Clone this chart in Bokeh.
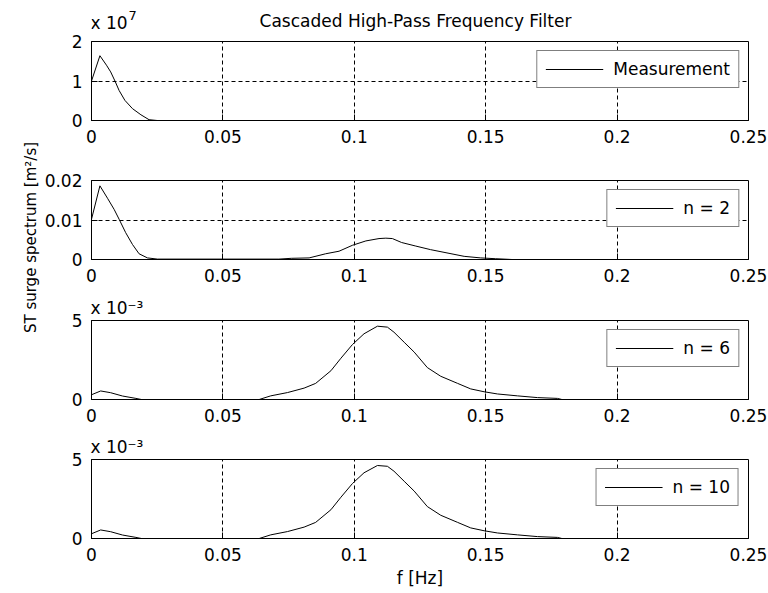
import math
from bokeh.plotting import figure
from bokeh.models import (Range1d, FixedTicker, CustomJSTickFormatter, Legend,
                          LegendItem, Label)
from bokeh.layouts import row, column
from bokeh.embed import file_html
from bokeh.resources import INLINE

# ---------------- data ----------------
x_ticks = [0, 0.05, 0.1, 0.15, 0.2, 0.25]

# Measurement (m^2/s), shown in units of 1e7
f_meas = [0, 0.0032, 0.0057, 0.0073, 0.009, 0.0105, 0.0127, 0.0156, 0.0188,
          0.0219, 0.025, 0.25]
s_meas = [1.0e7, 1.64e7, 1.40e7, 1.23e7, 0.99e7, 0.76e7, 0.51e7, 0.30e7,
          0.145e7, 0.02e7, 0.0, 0.0]

# n = 2
f_n2 = [0, 0.0032, 0.0061, 0.0086, 0.0105, 0.0130, 0.0156, 0.0181, 0.0213,
        0.0251, 0.0713, 0.0760, 0.0828, 0.0891, 0.0942, 0.0993, 0.1044,
        0.1094, 0.1120, 0.1145, 0.1180, 0.1234, 0.1290, 0.1418, 0.1481,
        0.1538, 0.1600, 0.25]
s_n2 = [0.0102, 0.01865, 0.0155, 0.0127, 0.0102, 0.0068, 0.0038, 0.00145,
        0.0004, 0.0001, 0.0001, 0.0003, 0.0004, 0.00145, 0.0021, 0.0036,
        0.0047, 0.0053, 0.0054, 0.0053, 0.0043, 0.0034, 0.0025, 0.0008,
        0.0004, 0.0002, 0.0, 0.0]

# n = 6 (shown in units of 1e-3)
f_n6 = [0, 0.0035, 0.0073, 0.0118, 0.0169, 0.019, 0.0638, 0.0682, 0.0746,
        0.0809, 0.0853, 0.0911, 0.0949, 0.0993, 0.1037, 0.1088, 0.1126,
        0.1151, 0.1190, 0.1228, 0.1278, 0.1329, 0.1393, 0.1443, 0.1494,
        0.1545, 0.1621, 0.1697, 0.1773, 0.179, 0.25]
s_n6 = [0.30e-3, 0.54e-3, 0.43e-3, 0.22e-3, 0.07e-3, 0.0, 0.0, 0.23e-3,
        0.44e-3, 0.72e-3, 1.02e-3, 1.82e-3, 2.61e-3, 3.48e-3, 4.16e-3,
        4.64e-3, 4.58e-3, 4.26e-3, 3.62e-3, 3.00e-3, 2.02e-3, 1.47e-3,
        1.02e-3, 0.67e-3, 0.49e-3, 0.35e-3, 0.23e-3, 0.12e-3, 0.07e-3, 0.0,
        0.0]

# n = 10 (shown in units of 1e-3)
f_n10 = [0, 0.0035, 0.0073, 0.0118, 0.0169, 0.019, 0.0638, 0.0682, 0.0746,
         0.0809, 0.0853, 0.0911, 0.0949, 0.0993, 0.1037, 0.1088, 0.1126,
         0.1151, 0.1190, 0.1228, 0.1278, 0.1329, 0.1393, 0.1443, 0.1494,
         0.1545, 0.1621, 0.1697, 0.1773, 0.179, 0.25]
s_n10 = [0.30e-3, 0.54e-3, 0.43e-3, 0.22e-3, 0.07e-3, 0.0, 0.0, 0.23e-3,
         0.44e-3, 0.72e-3, 1.02e-3, 1.82e-3, 2.61e-3, 3.48e-3, 4.16e-3,
         4.62e-3, 4.57e-3, 4.26e-3, 3.62e-3, 3.00e-3, 2.02e-3, 1.47e-3,
         1.02e-3, 0.67e-3, 0.49e-3, 0.35e-3, 0.23e-3, 0.12e-3, 0.07e-3, 0.0,
         0.0]

legend_labels = ["Measurement", "n = 2", "n = 6", "n = 10"]
y_scales = [1e7, 1.0, 1e-3, 1e-3]
y_exponents = ["7", None, "\u207b\u00b3", "\u207b\u00b3"]
y_maxes = [2, 0.02, 5, 5]
y_ticks = [[0, 1, 2], [0, 0.01, 0.02], [0, 5], [0, 5]]

title_text = "Cascaded High-Pass Frequency Filter"
y_label_text = "ST surge spectrum [m\u00b2/s]"
x_label_text = "f [Hz]"

FONT = "DejaVu Sans"
FS = "17px"
FRAME_W = 657
FRAME_H = 79
LABEL_W = 41
LEFT = 50
RIGHT = 20
COL_W = LEFT + FRAME_W + RIGHT


def make_panel(f, s, scale, ymax, yticks, label, top, bottom, xlabel=None,
               exp_title=None):
    p = figure(frame_width=FRAME_W, frame_height=FRAME_H,
               min_border_left=LEFT, min_border_right=RIGHT,
               min_border_top=top, min_border_bottom=bottom,
               x_range=Range1d(0, 0.25), y_range=Range1d(0, ymax),
               toolbar_location=None, output_backend="svg")
    ys = [v / scale for v in s]
    r = p.line(f, ys, line_color="black", line_width=1)

    p.outline_line_color = "black"
    p.outline_line_width = 1
    p.background_fill_color = "white"
    p.border_fill_color = "white"

    if exp_title is not None:
        p.title.text = exp_title
        p.title.align = "left"
        p.title.offset = -1
        p.title.standoff = 5
        p.title.text_font = FONT
        p.title.text_font_size = FS
        p.title.text_font_style = "normal"
        p.title.text_color = "black"

    p.xaxis.ticker = FixedTicker(ticks=x_ticks)
    p.yaxis.ticker = FixedTicker(ticks=yticks)
    p.xaxis.formatter = CustomJSTickFormatter(code="return tick.toString()")
    p.yaxis.formatter = CustomJSTickFormatter(code="return tick.toString()")
    for ax in (p.xaxis, p.yaxis):
        ax.axis_line_color = "black"
        ax.major_tick_line_color = "black"
        ax.major_tick_in = 6
        ax.major_tick_out = 0
        ax.minor_tick_line_color = None
        ax.major_label_text_font = FONT
        ax.major_label_text_font_size = FS
        ax.major_label_text_color = "black"
    p.xaxis.major_label_standoff = 9
    p.yaxis.major_label_standoff = 9

    for g in (p.xgrid, p.ygrid):
        g.grid_line_color = "black"
        g.grid_line_dash = "4 3"
        g.grid_line_width = 1
        g.grid_line_alpha = 1.0

    legend = Legend(items=[LegendItem(label=label, renderers=[r])],
                    location="top_right", margin=9, padding=8, spacing=0,
                    glyph_width=58, glyph_height=20, label_height=20,
                    label_standoff=10, border_line_color="black",
                    border_line_width=1, background_fill_color="white",
                    background_fill_alpha=1.0, label_text_font=FONT,
                    label_text_font_size=FS, label_text_color="black")
    p.add_layout(legend)

    if xlabel is not None:
        p.xaxis.axis_label = xlabel
        p.xaxis.axis_label_text_font = FONT
        p.xaxis.axis_label_text_font_size = FS
        p.xaxis.axis_label_text_font_style = "normal"
        p.xaxis.axis_label_text_color = "black"
        p.xaxis.axis_label_standoff = 4
    return p


def make_header(height, exponent, title):
    # the column layout aligns this figure's frame with the panel frames
    h = figure(width=COL_W, height=height, min_border=0,
               x_axis_location=None, y_axis_location=None,
               x_range=Range1d(0, 0.25), y_range=Range1d(0, height),
               toolbar_location=None, output_backend="svg")
    h.grid.visible = False
    h.outline_line_color = None
    h.border_fill_color = "white"
    h.background_fill_color = "white"
    h.add_layout(Label(x=-1, y=9, x_units="screen", text="x 10",
                       text_font=FONT, text_font_size=FS, text_color="black",
                       text_baseline="alphabetic", text_align="left"))
    h.add_layout(Label(x=37, y=16, x_units="screen", text=exponent,
                       text_font=FONT, text_font_size="13px",
                       text_color="black", text_baseline="alphabetic",
                       text_align="left"))
    h.add_layout(Label(x=324, y=11, x_units="screen", text=title,
                       text_font=FONT, text_font_size=FS,
                       text_color="black", text_baseline="alphabetic",
                       text_align="center"))
    return h


series = [(f_meas, s_meas), (f_n2, s_n2), (f_n6, s_n6), (f_n10, s_n10)]
tops = [10, 30, 31, 30]
bottoms = [30, 30, 30, 55]

items = []
for i, (f, s) in enumerate(series):
    if i == 0:
        items.append(make_header(31, y_exponents[0], title_text))
    exp_title = None
    if i > 0 and y_exponents[i] is not None:
        exp_title = "x 10" + y_exponents[i]
    items.append(make_panel(
        f, s, y_scales[i], y_maxes[i], y_ticks[i], legend_labels[i],
        tops[i], bottoms[i], xlabel=x_label_text if i == 3 else None,
        exp_title=exp_title))

lf = figure(width=LABEL_W, height=593, toolbar_location=None,
            output_backend="svg", min_border=0, x_axis_location=None,
            y_axis_location=None, x_range=Range1d(0, 1),
            y_range=Range1d(0, 1))
lf.grid.visible = False
lf.outline_line_color = None
lf.border_fill_color = "white"
lf.add_layout(Label(x=30, y=593 - 237, x_units="screen", y_units="screen",
                    text=y_label_text, angle=math.pi / 2, text_font=FONT,
                    text_font_size="15px", text_color="black",
                    text_align="center", text_baseline="middle"))

layout = row(lf, column(*items, spacing=0), spacing=0)
open("out.html", "w").write(file_html(layout, INLINE))
